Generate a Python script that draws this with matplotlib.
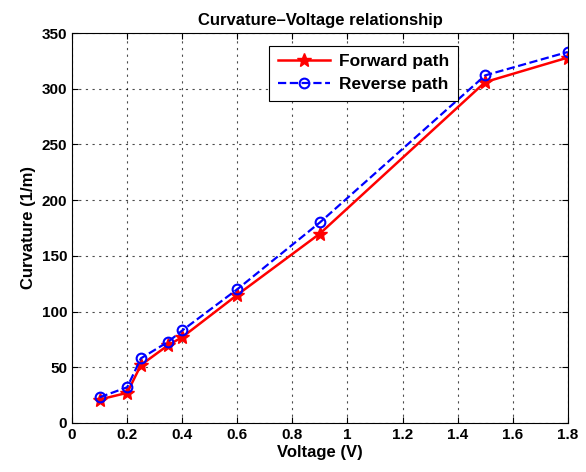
import matplotlib
matplotlib.use('Agg')
import matplotlib.pyplot as plt

plt.rcParams['font.family'] = ['Liberation Sans', 'DejaVu Sans']
plt.rcParams['font.weight'] = 'bold'

# 数据
voltage = [0.1, 0.2, 0.25, 0.35, 0.4, 0.6, 0.9, 1.5, 1.8]
forward = [21, 27, 52, 70, 77, 115, 170, 306, 328]
reverse = [23, 32, 58, 73, 83, 120, 180, 312, 333]

fig = plt.figure(figsize=(5.86, 4.72), dpi=100)
ax = fig.add_axes([0.123, 0.104, 0.846, 0.826])

ax.plot(voltage, forward, color='red', linestyle='-', linewidth=1.8,
        marker='*', markersize=10, label='Forward path')
ax.plot(voltage, reverse, color='blue', linestyle='--', linewidth=1.6,
        marker='o', markersize=7, markerfacecolor='none', markeredgewidth=1.5,
        label='Reverse path')

ax.set_xlim(0, 1.8)
ax.set_ylim(0, 350)
ax.set_xticks([0, 0.2, 0.4, 0.6, 0.8, 1, 1.2, 1.4, 1.6, 1.8])
ax.set_xticklabels(['0', '0.2', '0.4', '0.6', '0.8', '1', '1.2', '1.4', '1.6', '1.8'])
ax.set_yticks(range(0, 351, 50))
ax.tick_params(direction='in', labelsize=11, top=True, right=True, length=4)
ax.grid(True, color='black', linestyle=(0, (2, 4)), linewidth=0.8, alpha=0.7)

ax.set_xlabel('Voltage (V)', fontsize=12, fontweight='bold', labelpad=2)
ax.set_ylabel('Curvature (1/m)', fontsize=12, fontweight='bold')
ax.set_title('Curvature\u2013Voltage relationship', fontsize=12, fontweight='bold')

leg = ax.legend(loc='upper left', bbox_to_anchor=(0.38, 0.99), fontsize=12.5,
                fancybox=False, edgecolor='black', framealpha=1, handlelength=3,
                borderpad=0.5, labelspacing=0.45, handletextpad=0.5)
leg.get_frame().set_linewidth(0.8)

plt.savefig('out.png', dpi=100)
